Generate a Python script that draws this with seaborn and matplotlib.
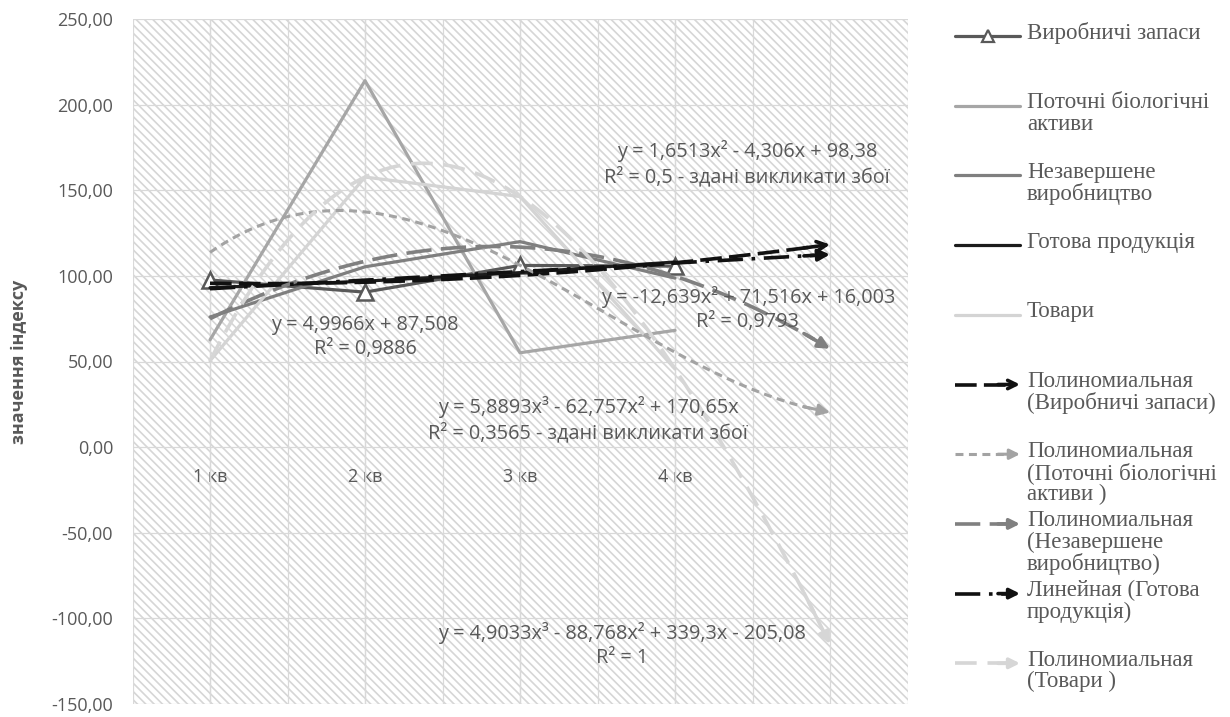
import numpy as np
import matplotlib
matplotlib.use("Agg")
import matplotlib.pyplot as plt
import seaborn as sns
from matplotlib.patches import Rectangle
from matplotlib.ticker import FuncFormatter

# ---------------- data ----------------
quarters = ["1 кв", "2 кв", "3 кв", "4 кв"]
vyrobnychi = [97.6, 90.5, 106.1, 105.7]
biolog = [62.6, 214.0, 55.1, 68.2]
nezaversh = [76.0, 105.3, 120.0, 98.7]
gotova = [93.1, 96.9, 101.9, 108.1]
tovary = [50.4, 157.7, 146.3, 45.6]

series_names = ["Виробничі запаси", "Поточні біологічні\nактиви",
                "Незавершене\nвиробництво", "Готова продукція", "Товари"]
trend_names = ["Полиномиальная\n(Виробничі запаси)",
               "Полиномиальная\n(Поточні біологічні\nактиви )",
               "Полиномиальная\n(Незавершене\nвиробництво)",
               "Линейная (Готова\nпродукція)",
               "Полиномиальная\n(Товари )"]
trend_labels = ["y = 1,6513x² - 4,306x + 98,38\nR² = 0,5 - здані викликати збої",
                "y = 5,8893x³ - 62,757x² + 170,65x\nR² = 0,3565 - здані викликати збої",
                "y = -12,639x² + 71,516x + 16,003\nR² = 0,9793",
                "y = 4,9966x + 87,508\nR² = 0,9886",
                "y = 4,9033x³ - 88,768x² + 339,3x - 205,08\nR² = 1"]
y_ticks = [-150, -100, -50, 0, 50, 100, 150, 200, 250]
forecast_periods = 1

# ---------------- styles ----------------
series_colors = ["#595959", "#a6a6a6", "#7f7f7f", "#1c1c1c", "#d4d4d4"]
trend_colors = ["#111111", "#a3a3a3", "#808080", "#111111", "#d6d6d6"]
trend_dashes = [(6, 2), (2.6, 1.8), (7, 2.6), (7, 2.4, 1, 2.4), (6, 3)]
trend_lw = [2.6, 2.2, 2.6, 2.6, 2.6]
trend_heads = ["->", "-|>", "-|>", "-|>", "-|>"]
label_pos = [(4.465, 165.5), (3.44, 15.8), (4.47, 80.6), (2.0, 64.2), (3.66, -115.6)]
TXT = "#595959"

sns.set_theme(style="white")
plt.rcParams["font.family"] = ["Open Sans", "DejaVu Sans"]
plt.rcParams["hatch.linewidth"] = 1.2
plt.rcParams["hatch.color"] = "#d6d6d6"

W, H = 1230, 717
fig = plt.figure(figsize=(W / 100, H / 100), dpi=100)
ax = fig.add_axes([132.5 / W, 13 / H, 775 / W, 685 / H])
ax.set_facecolor("white")
ax.add_patch(Rectangle((0, 0), 1, 1, transform=ax.transAxes, facecolor="white",
                       edgecolor="#d6d6d6", hatch="\\\\\\\\", linewidth=0, zorder=0))

xq = np.arange(1, len(quarters) + 1)
all_series = [vyrobnychi, biolog, nezaversh, gotova, tovary]

# series lines
for i, vals in enumerate(all_series):
    kw = dict(color=series_colors[i], lw=2.3, zorder=3)
    if i == 0:
        kw.update(marker="^", markersize=12, markerfacecolor="white",
                  markeredgecolor=series_colors[0], markeredgewidth=1.8)
    sns.lineplot(x=xq, y=np.array(vals), ax=ax, **kw)

# trend lines (fitted from the data, forecast one period forward)
xt = np.linspace(1, len(quarters) + forecast_periods, 120)
def fit(vals, kind):
    if kind == "poly2":
        return np.polyval(np.polyfit(xq, vals, 2), xt)
    if kind == "poly3":
        return np.polyval(np.polyfit(xq, vals, 3), xt)
    if kind == "lin":
        return np.polyval(np.polyfit(xq, vals, 1), xt)
    if kind == "poly3_0":
        A = np.column_stack([xq, xq ** 2, xq ** 3])
        c, *_ = np.linalg.lstsq(A, np.array(vals), rcond=None)
        return c[0] * xt + c[1] * xt ** 2 + c[2] * xt ** 3

trend_kinds = ["poly2", "poly3_0", "poly2", "lin", "poly3"]
for i, kind in enumerate(trend_kinds):
    yt = fit(all_series[i], kind)
    sns.lineplot(x=xt[:-3], y=yt[:-3], ax=ax, color=trend_colors[i], lw=trend_lw[i],
                 linestyle=(0, trend_dashes[i]), zorder=4, sort=False)
    ax.annotate("", xy=(xt[-1], yt[-1]), xytext=(xt[-6], yt[-6]),
                arrowprops=dict(arrowstyle=trend_heads[i], color=trend_colors[i],
                                lw=trend_lw[i], mutation_scale=17,
                                shrinkA=0, shrinkB=0), zorder=4)

# equation labels
for txt, (lx, ly) in zip(trend_labels, label_pos):
    ax.text(lx, ly, txt, ha="center", va="center", fontsize=14.3, color=TXT,
            linespacing=1.3, zorder=6)

# axes
ax.set_xlim(0.5, 5.5)
ax.set_ylim(-150, 250)
ax.set_yticks(y_ticks)
ax.yaxis.set_major_formatter(FuncFormatter(lambda v, p: f"{v:.2f}".replace(".", ",")))
ax.set_xticks(xq)
ax.set_xticklabels(quarters)
ax.set_xticks(np.arange(0.5, 5.51, 0.5), minor=True)
ax.xaxis.remove_overlapping_locs = False
ax.spines["bottom"].set_position(("data", 0))
for s in ax.spines.values():
    s.set_visible(False)
ax.tick_params(axis="y", labelsize=13, colors=TXT, length=0, pad=14)
ax.tick_params(axis="x", labelsize=13, colors=TXT, length=0, pad=15)
ax.tick_params(axis="x", which="minor", length=0)
ax.set_axisbelow(True)
ax.grid(axis="y", which="major", color="#d9d9d9", lw=0.9)
ax.grid(axis="x", which="both", color="#d9d9d9", lw=0.9)
ax.set_ylabel("значення індексу", fontsize=13, color=TXT, fontweight="bold")
ax.yaxis.set_label_coords(-0.135, 0.5)

# legend (custom layout: fixed spacing like the original)
lg = fig.add_axes([0, 0, 1, 1], facecolor="none")
lg.set_xlim(0, W)
lg.set_ylim(H, 0)
lg.axis("off")
y0, step = 36, 69.7
hx0, hx1, tx = 955, 1020, 1027
names = series_names + trend_names
for k, name in enumerate(names):
    y = y0 + step * k
    if k < 5:
        lg.plot([hx0, hx1], [y, y], color=series_colors[k], lw=2.3)
        if k == 0:
            lg.plot([(hx0 + hx1) / 2], [y], marker="^", markersize=9,
                    markerfacecolor="white", markeredgecolor=series_colors[0],
                    markeredgewidth=1.6)
    else:
        j = k - 5
        lg.plot([hx0, hx1 - 14], [y, y], color=trend_colors[j], lw=trend_lw[j],
                linestyle=(0, trend_dashes[j]))
        lg.annotate("", xy=(hx1, y), xytext=(hx1 - 22, y),
                    arrowprops=dict(arrowstyle=trend_heads[j], color=trend_colors[j],
                                    lw=trend_lw[j], mutation_scale=15,
                                    shrinkA=0, shrinkB=0))
    lg.text(tx, y - 13.5, name, ha="left", va="top", fontsize=16.5, color=TXT,
            family=["Liberation Serif", "DejaVu Serif"], linespacing=1.02)

fig.savefig("out.png", dpi=100)
